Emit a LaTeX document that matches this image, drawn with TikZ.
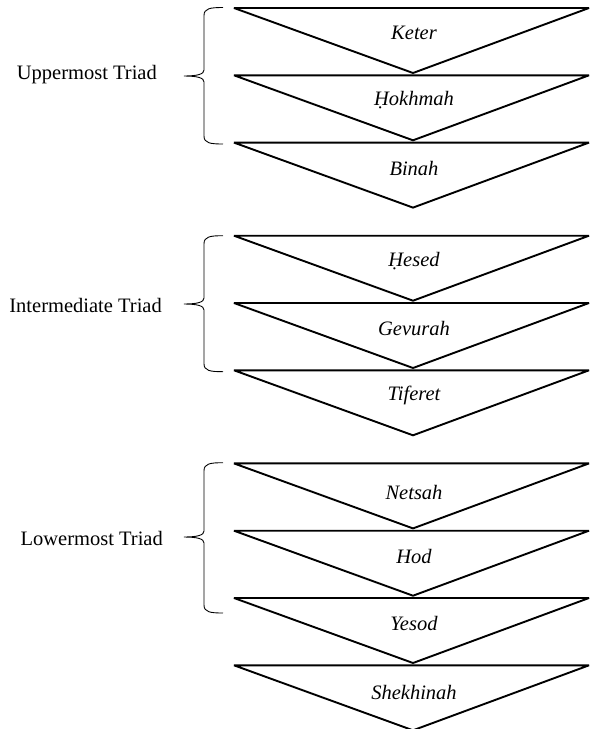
\documentclass[tikz,border=0pt]{standalone}
\usepackage{fontspec}
\setmainfont{Liberation Serif}
\begin{document}
\begin{tikzpicture}[x=1pt,y=-1pt,
  tri/.style={draw=black,line width=1.9pt,line join=miter,miter limit=3},
  brc/.style={draw=black,line width=0.9pt},
  sefira/.style={font=\fontsize{20.5}{24}\selectfont\itshape,inner sep=0pt},
  triad/.style={font=\fontsize{20.5}{24}\selectfont,inner sep=0pt,anchor=east}]
\useasboundingbox (0,0) rectangle (590,729);
% triangles
\foreach \t/\lab/\nm/\off in {8/Keter/keter/25, 75.3/{\d{H}okhmah}/hokhmah/25, 142.6/Binah/binah/26,
  235.7/{\d{H}esed}/hesed/25, 303/Gevurah/gevurah/26, 370.3/Tiferet/tiferet/25,
  463.4/Netsah/netsah/29, 530.7/Hod/hod/26, 598/Yesod/yesod/25, 665.3/Shekhinah/shekhinah/27}{
  \coordinate (\nm-l) at (234,\t);
  \coordinate (\nm-r) at (589,\t);
  \coordinate (\nm-a) at (413,\t+65);
  \draw[tri] (\nm-l) -- (\nm-r) -- (\nm-a) -- cycle;
  \node[sefira] (\nm) at (414,\t+\off) {\lab};
}
% braces
\foreach \nm/\top/\mid/\bot in {b1/7.5/76/144, b2/235.7/304/371.7, b3/462.7/537/613}{
  \coordinate (\nm-t) at (223,\top);
  \coordinate (\nm-m) at (184,\mid);
  \coordinate (\nm-b) at (223,\bot);
  \draw[brc] (\nm-t) .. controls (210,\top) and (204,\top+1) .. (204,\top+8)
    -- (204,\mid-6) .. controls (204,\mid-2) and (198,\mid) .. (\nm-m)
    .. controls (198,\mid) and (204,\mid+2) .. (204,\mid+6)
    -- (204,\bot-8) .. controls (204,\bot-1) and (210,\bot) .. (\nm-b);
}
\node[triad] (upper) at (157,75) {Uppermost Triad};
\node[triad] (inter) at (162,305) {Intermediate Triad};
\node[triad] (lower) at (163,538) {Lowermost Triad};
\end{tikzpicture}
\end{document}
